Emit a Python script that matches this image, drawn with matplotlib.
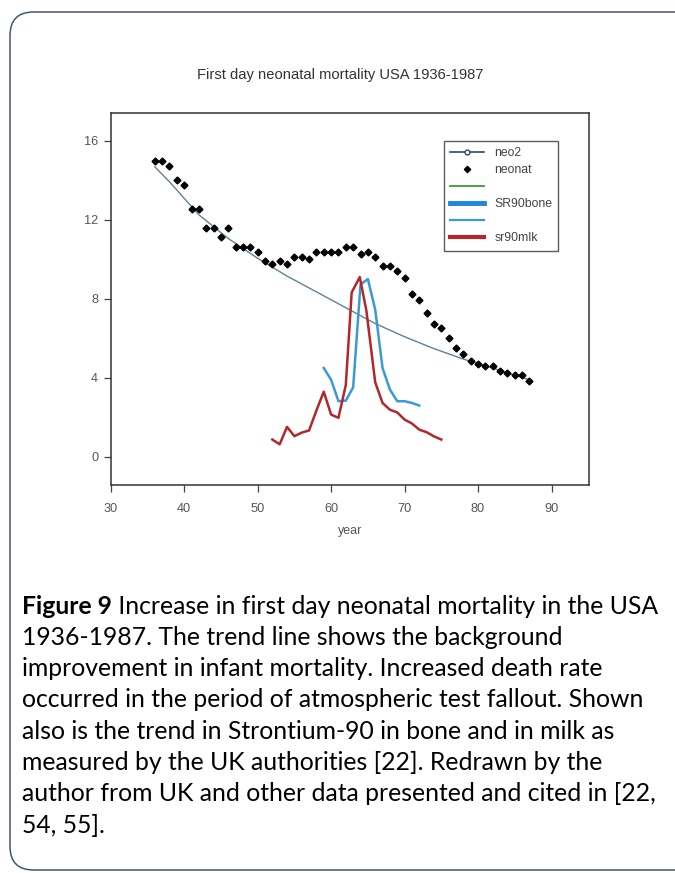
import matplotlib
matplotlib.use("Agg")
import matplotlib.pyplot as plt
from matplotlib.lines import Line2D
from matplotlib.patches import FancyBboxPatch

# ── data ──────────────────────────────────────────────────────────────────────
neonat_years = list(range(36, 88))
neonat_rate = [14.97, 14.97, 14.70, 14.00, 13.77, 12.56, 12.56, 11.57, 11.57, 11.12,
               11.57, 10.63, 10.63, 10.63, 10.38, 9.89, 9.75, 9.89, 9.75, 10.14,
               10.14, 10.00, 10.38, 10.38, 10.38, 10.38, 10.63, 10.63, 10.26, 10.38,
               10.14, 9.65, 9.65, 9.40, 9.06, 8.22, 7.96, 7.26, 6.75, 6.50,
               6.00, 5.53, 5.20, 4.83, 4.71, 4.59, 4.59, 4.37, 4.25, 4.12,
               4.12, 3.86]

neo2_years = [36, 38, 42, 46, 50, 54, 58, 62, 66, 70, 74, 78, 82, 87]
neo2_rate = [14.68, 13.92, 12.25, 11.05, 10.05, 9.15, 8.35, 7.55, 6.75, 6.08,
             5.48, 4.95, 4.50, 3.90]

bone_years = [59, 60, 61, 62, 63, 64, 65, 66, 67, 68, 69, 70, 71, 72]
bone_sr90 = [4.50, 3.90, 2.82, 2.85, 3.52, 8.72, 9.00, 7.46, 4.50, 3.41,
             2.82, 2.82, 2.73, 2.60]

milk_years = [52, 53, 54, 55, 56, 57, 58, 59, 60, 61, 62, 62.8, 63.9, 64.8,
              66, 67, 68, 69, 70, 71, 72, 73, 74, 75]
milk_sr90 = [0.88, 0.64, 1.52, 1.05, 1.23, 1.34, 2.35, 3.30, 2.14, 1.98, 3.64,
             8.32, 9.10, 7.40, 3.78, 2.73, 2.39, 2.25, 1.89, 1.69, 1.38, 1.25,
             1.04, 0.88]

x_ticks = [30, 40, 50, 60, 70, 80, 90]
y_ticks = [0, 4, 8, 12, 16]

title = "First day neonatal mortality USA 1936-1987"
caption_bold = "Figure 9"
caption_lines = [
    " Increase in first day neonatal mortality in the USA",
    "1936-1987. The trend line shows the background",
    "improvement in infant mortality. Increased death rate",
    "occurred in the period of atmospheric test fallout. Shown",
    "also is the trend in Strontium-90 in bone and in milk as",
    "measured by the UK authorities [22]. Redrawn by the",
    "author from UK and other data presented and cited in [22,",
    "54, 55].",
]

# ── colours ──────────────────────────────────────────────────────────────────
TREND = "#5f8299"
NEO2_LEG = "#2d4b68"
BONE = "#3a9ad8"
BONE_LEG = "#1e86dd"
MILK = "#b3262b"
GREEN = "#3c9a3c"
TICK_TXT = "#555555"

W, H, DPI = 675, 873, 100
fig = plt.figure(figsize=(W / DPI, H / DPI), dpi=DPI)
fig.patch.set_facecolor("white")

# outer rounded frame (runs off the right edge like the page crop)
frame = FancyBboxPatch((10 / W, 3 / H), 700 / W, (H - 15) / H,
                       boxstyle="round,pad=0,rounding_size=0.035",
                       transform=fig.transFigure, facecolor="none",
                       edgecolor="#45557a", linewidth=1.1, mutation_aspect=W / H)
fig.patches.append(frame)

ax = fig.add_axes([110.7 / W, 1 - 485 / H, (589 - 110.7) / W, (485 - 113) / H])

ax.plot(neo2_years, neo2_rate, color=TREND, lw=1.0, zorder=2)
ax.plot(bone_years, bone_sr90, color=BONE, lw=1.8, zorder=3)
ax.plot(milk_years, milk_sr90, color=MILK, lw=1.8, zorder=3)
ax.plot(neonat_years, neonat_rate, linestyle="none", marker="D", markersize=3.5,
        color="black", zorder=4)

ax.set_xlim(30, 95.1)
ax.set_ylim(-1.42, 17.4)
ax.set_xticks(x_ticks)
ax.set_yticks(y_ticks)
ax.tick_params(axis="both", direction="out", length=5, width=0.9, color="#444444",
               labelsize=9.2, labelcolor=TICK_TXT)
ax.tick_params(axis="x", pad=8)
ax.tick_params(axis="y", pad=4)
for lbl in ax.get_xticklabels() + ax.get_yticklabels():
    lbl.set_family("Liberation Sans")
for sp in ax.spines.values():
    sp.set_color("#333333")
    sp.set_linewidth(1.1)
ax.set_xlabel("year", fontsize=9, color=TICK_TXT, family="Liberation Sans", labelpad=7)

handles = [
    Line2D([], [], color=NEO2_LEG, lw=1.2, marker="o", markersize=3.5,
           markerfacecolor="white", markeredgecolor=NEO2_LEG),
    Line2D([], [], linestyle="none", marker="D", markersize=3.2, color="black"),
    Line2D([], [], color=GREEN, lw=1.3),
    Line2D([], [], color=BONE_LEG, lw=3.5),
    Line2D([], [], color=BONE, lw=1.6),
    Line2D([], [], color=MILK, lw=3.0),
]
labels = ["neo2", "neonat", " ", "SR90bone", " ", "sr90mlk"]
leg = ax.legend(handles, labels, loc="upper left", bbox_to_anchor=(0.697, 0.9255),
                borderaxespad=0, fancybox=False, frameon=True, handlelength=2.8,
                handletextpad=0.8, labelspacing=0.42, borderpad=0.5,
                prop={"family": "Liberation Sans", "size": 8.8})
leg.get_frame().set_edgecolor("#333333")
leg.get_frame().set_linewidth(1.0)
for t in leg.get_texts():
    t.set_color("#444444")

fig.text(340 / W, 1 - 75 / H, title, ha="center", va="center", fontsize=10.6,
         color="#333333", family="Liberation Sans")

# caption
cap_font = ["Lato", "DejaVu Sans"]
cap_size = 17.8
y0 = 606
step = 31.3
bold = fig.text(22 / W, 1 - y0 / H, caption_bold, ha="left", va="center",
                fontsize=cap_size, fontweight="bold", family=cap_font, color="black")
fig.canvas.draw()
bb = bold.get_window_extent()
fig.text(bb.x1 / W, 1 - y0 / H, caption_lines[0], ha="left", va="center",
         fontsize=cap_size, family=cap_font, color="black")
for i, line in enumerate(caption_lines[1:], start=1):
    fig.text(22 / W, 1 - (y0 + i * step) / H, line, ha="left", va="center",
             fontsize=cap_size, family=cap_font, color="black")

fig.savefig("out.png", dpi=DPI)
